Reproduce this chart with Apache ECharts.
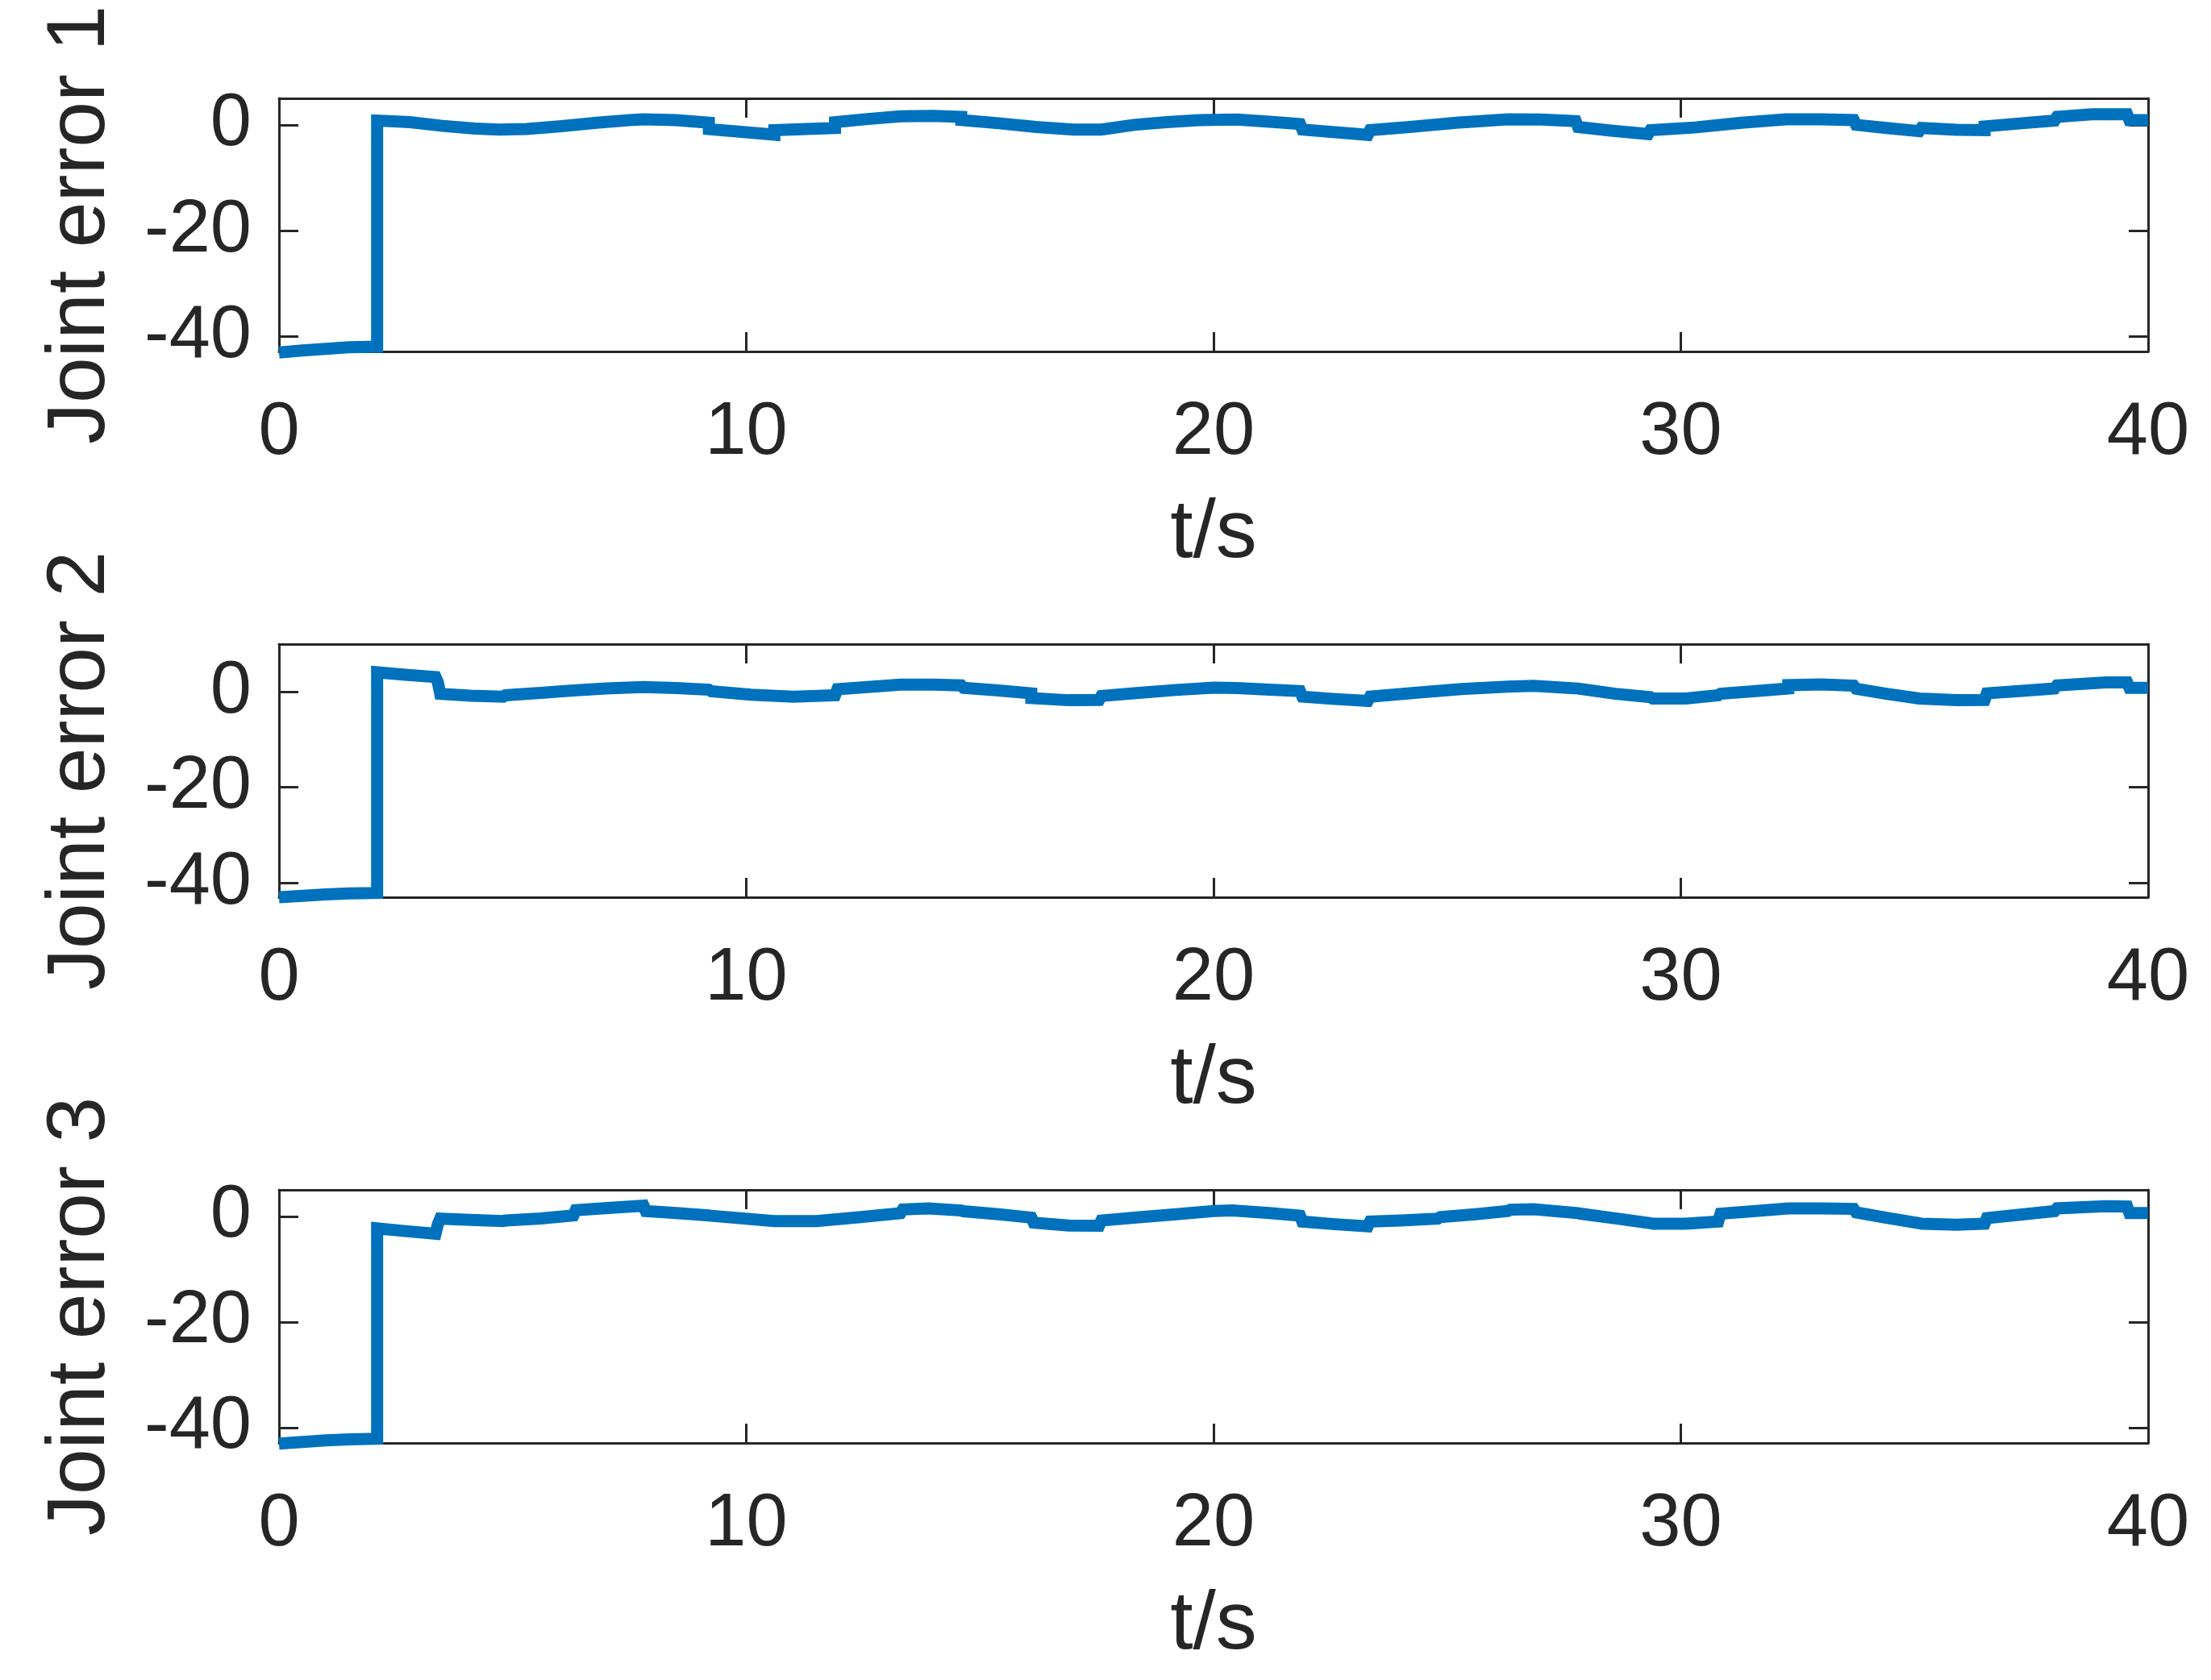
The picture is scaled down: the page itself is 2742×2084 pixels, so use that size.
<!DOCTYPE html>
<html>
<head>
<meta charset="utf-8">
<script src="https://cdn.jsdelivr.net/npm/echarts@6/dist/echarts.min.js"></script>
<style>
html,body{margin:0;padding:0;background:#fff;}
#chart{width:2742px;height:2084px;}
</style>
</head>
<body>
<div id="chart"></div>
<script>
// ---- data (time in s, joint errors) ----
const xTicks = [0, 10, 20, 30, 40];
const yNames = ['Joint error 1', 'Joint error 2', 'Joint error 3'];
const xName = 't/s';
const yMin = [-42.8, -43.0, -42.9];
const yMax = [5, 10, 5];

const t1 = [0,0.5,1,1.5,2.1,2.1,2.8,3.5,4.2,4.7,5.3,6.0,6.8,7.5,7.8,8.5,9.2,9.2,10.6,10.6,11.3,11.9,11.9,12.6,13.3,14.0,14.6,14.6,15.4,16.2,17.0,17.6,17.6,18.3,19.0,19.7,20.5,21.2,21.85,21.9,22.6,23.3,23.35,24.2,25.2,26.3,27.0,27.75,27.8,28.5,29.3,29.35,30.3,31.3,32.25,33.0,33.7,33.75,34.4,35.1,35.15,35.9,36.5,36.5,37.3,38.0,38.05,38.8,39.55,39.6,40];
const e1 = [-43.0,-42.6,-42.3,-42.0,-41.9,0.8,0.5,-0.2,-0.7,-0.9,-0.8,-0.3,0.4,0.9,1.05,0.9,0.4,-0.8,-1.85,-1.0,-0.8,-0.6,0.5,1.1,1.6,1.7,1.5,0.9,0.3,-0.4,-0.9,-0.9,-0.6,0.0,0.5,0.9,1.0,0.6,0.15,-0.9,-1.4,-1.9,-1.0,-0.4,0.4,1.05,1.0,0.7,-0.4,-1.1,-1.75,-1.0,-0.5,0.4,1.05,1.05,0.9,0.0,-0.6,-1.2,-0.6,-0.95,-1.0,-0.3,0.3,0.8,1.5,2.0,2.0,0.9,0.9];

const t2 = [0,0.5,1,1.5,2.1,2.1,2.7,3.35,3.4,3.45,4.1,4.8,4.85,5.6,6.3,7.0,7.8,8.5,9.2,9.25,10.1,11.0,11.9,11.95,12.6,13.3,14.0,14.6,14.65,15.4,16.1,16.1,16.9,17.55,17.6,18.4,19.2,20.0,20.5,21.2,21.85,21.9,22.6,23.3,23.35,24.3,25.3,26.3,26.85,27.8,27.8,28.6,29.35,29.4,30.1,30.8,30.85,31.5,32.3,32.3,33.0,33.7,33.75,34.4,35.1,35.9,36.5,36.55,37.3,38.0,38.05,39.1,39.55,39.6,40];
const e2 = [-43.0,-42.7,-42.4,-42.2,-42.1,4.1,3.6,3.1,2.0,-0.4,-0.8,-1.0,-0.7,-0.2,0.3,0.7,1.0,0.8,0.45,0.15,-0.6,-1.0,-0.7,0.55,1.0,1.5,1.5,1.35,0.85,0.3,-0.3,-1.3,-1.75,-1.7,-0.85,-0.2,0.4,0.9,0.8,0.45,0.15,-1.0,-1.5,-1.9,-1.0,-0.2,0.6,1.1,1.25,0.7,0.45,-0.4,-1.1,-1.4,-1.4,-0.7,-0.4,0.1,0.7,1.4,1.55,1.3,0.65,-0.4,-1.4,-1.75,-1.7,-0.3,0.2,0.7,1.35,2.0,2.0,0.85,0.85];

const t3 = [0,0.5,1,1.5,2.1,2.1,2.7,3.35,3.4,3.45,4.1,4.8,4.85,5.6,6.3,6.35,7.1,7.8,7.85,8.5,9.2,9.25,10.6,11.5,12.4,13.3,13.35,13.9,14.6,14.65,15.4,16.1,16.15,16.9,17.55,17.6,18.4,19.2,20.0,20.4,21.2,21.85,21.9,22.6,23.3,23.35,24.0,24.8,24.85,25.6,26.3,26.35,26.85,27.8,27.85,28.6,29.35,29.4,30.1,30.8,30.85,31.6,32.3,33.0,33.7,33.75,34.4,35.1,35.15,35.9,36.5,36.55,37.3,38.0,38.05,39.1,39.55,39.6,40];
const e3 = [-43.0,-42.7,-42.4,-42.2,-42.1,-2.3,-2.8,-3.3,-1.5,-0.45,-0.7,-0.9,-0.8,-0.4,0.15,1.15,1.6,2.0,1.0,0.6,0.15,0.1,-0.9,-0.9,-0.2,0.6,1.3,1.5,1.1,0.95,0.4,-0.25,-1.2,-1.75,-1.8,-0.8,-0.2,0.4,1.0,1.1,0.6,0.1,-1.0,-1.5,-1.9,-1.0,-0.8,-0.45,-0.15,0.4,1.0,1.25,1.35,0.6,0.5,-0.4,-1.3,-1.4,-1.4,-1.0,0.5,1.0,1.5,1.5,1.4,0.75,-0.3,-1.3,-1.4,-1.6,-1.4,-0.35,0.35,1.0,1.5,1.9,1.85,0.6,0.6];

const T = [t1, t2, t3];
const E = [e1, e2, e3];

// ---- style / layout ----
const INK = '#262626';
const FONT = 'Liberation Sans, Arial, sans-serif';
const tops = [122, 799, 1476];
const H = 314;

const grids = [], xAxes = [], yAxes = [], series = [];
for (let i = 0; i < 3; i++) {
  grids.push({left: 346, right: 78, top: tops[i], height: H, show: false});
  const common = {
    gridIndex: i, type: 'value',
    axisLine: {show: true, onZero: false, lineStyle: {color: INK, width: 3}},
    axisTick: {show: true, inside: true, length: 24, lineStyle: {color: INK, width: 3}},
    splitLine: {show: false}
  };
  xAxes.push(Object.assign({}, common, {
    position: 'bottom', min: xTicks[0], max: xTicks[xTicks.length - 1], interval: 10,
    axisLabel: {margin: 56, fontSize: 92, color: INK, fontFamily: FONT},
    name: xName, nameLocation: 'middle', nameGap: 176,
    nameTextStyle: {fontSize: 102, color: INK, fontFamily: FONT}
  }));
  xAxes.push(Object.assign({}, common, {
    position: 'top', min: xTicks[0], max: xTicks[xTicks.length - 1], interval: 10,
    axisLabel: {show: false}
  }));
  yAxes.push(Object.assign({}, common, {
    position: 'left', min: yMin[i], max: yMax[i], splitNumber: 3,
    axisLabel: {margin: 34, fontSize: 92, color: INK, fontFamily: FONT,
                showMinLabel: false, showMaxLabel: false},
    name: yNames[i], nameLocation: 'middle', nameGap: 194,
    nameTextStyle: {fontSize: 102, color: INK, fontFamily: FONT}
  }));
  yAxes.push(Object.assign({}, common, {
    position: 'right', min: yMin[i], max: yMax[i], splitNumber: 3,
    axisLabel: {show: false}
  }));
  series.push({
    type: 'line', xAxisIndex: 2 * i, yAxisIndex: 2 * i,
    data: T[i].map((t, k) => [t, E[i][k]]),
    showSymbol: false, clip: false, animation: false,
    lineStyle: {color: '#0072BD', width: 15, cap: 'butt', join: 'miter'}
  });
}

const chart = echarts.init(document.getElementById('chart'), null, {renderer: 'canvas'});
chart.setOption({
  animation: false,
  backgroundColor: '#ffffff',
  grid: grids, xAxis: xAxes, yAxis: yAxes, series: series
});
</script>
</body>
</html>
